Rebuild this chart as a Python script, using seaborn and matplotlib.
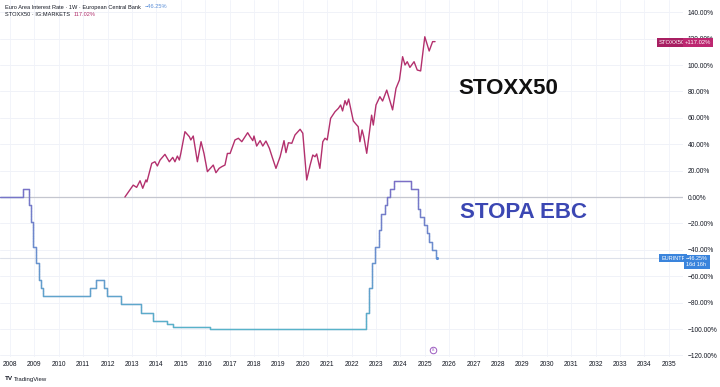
import numpy as np
import pandas as pd
import matplotlib
matplotlib.use("Agg")
import matplotlib.pyplot as plt
import seaborn as sns
from matplotlib.collections import LineCollection
from matplotlib.colors import LinearSegmentedColormap, Normalize
from matplotlib.transforms import blended_transform_factory

# ---------------- data ----------------
years_ticks = list(range(2008, 2036))
y_ticks = list(range(-120, 141, 20))

rate_years = [2007.59, 2008.52, 2008.79, 2008.86, 2008.94, 2009.05, 2009.19, 2009.27,
              2009.37, 2011.28, 2011.53, 2011.85, 2011.96, 2012.53, 2013.35, 2013.87,
              2014.44, 2014.69, 2016.21, 2022.57, 2022.71, 2022.84, 2022.97, 2023.11,
              2023.22, 2023.36, 2023.47, 2023.59, 2023.72, 2024.45, 2024.71, 2024.81,
              2024.97, 2025.10, 2025.19, 2025.31, 2025.44]
rate_vals = [0, 6.25, -6.25, -18.75, -37.5, -50, -62.5, -68.75,
             -75, -68.75, -62.5, -68.75, -75, -81.25, -87.5, -93.75,
             -96.25, -98.75, -100, -87.5, -68.75, -50, -37.5, -25,
             -12.5, -6.25, 0, 6.25, 12.5, 6.25, -8.75, -15,
             -21.25, -27.5, -33.75, -40, -46.25]
rate_end_year = 2025.50

stoxx_years = [2012.71, 2013.05, 2013.19, 2013.33, 2013.44, 2013.57, 2013.61, 2013.81,
               2013.94, 2014.04, 2014.15, 2014.35, 2014.53, 2014.67, 2014.76, 2014.86,
               2014.94, 2015.00, 2015.17, 2015.35, 2015.41, 2015.51, 2015.68, 2015.83,
               2015.95, 2016.09, 2016.33, 2016.44, 2016.57, 2016.68, 2016.81, 2016.91,
               2017.02, 2017.22, 2017.36, 2017.50, 2017.74, 2017.84, 2017.95, 2018.00,
               2018.11, 2018.25, 2018.36, 2018.49, 2018.63, 2018.75, 2018.90, 2019.07,
               2019.23, 2019.31, 2019.41, 2019.55, 2019.68, 2019.89, 2020.00, 2020.16,
               2020.30, 2020.41, 2020.50, 2020.57, 2020.70, 2020.82, 2020.91, 2021.00,
               2021.14, 2021.32, 2021.46, 2021.55, 2021.63, 2021.73, 2021.80, 2021.88,
               2022.07, 2022.21, 2022.27, 2022.34, 2022.43, 2022.50, 2022.62, 2022.82,
               2022.89, 2023.00, 2023.16, 2023.27, 2023.44, 2023.68, 2023.82, 2023.96,
               2024.09, 2024.19, 2024.28, 2024.39, 2024.56, 2024.69, 2024.83, 2025.00,
               2025.18, 2025.32, 2025.42]
stoxx_vals = [0.0, 9.0, 7.3, 12.3, 6.6, 12.9, 11.4, 25.5,
              26.7, 23.5, 28.0, 32.3, 26.7, 30.0, 26.7, 31.0,
              28.0, 33.0, 49.5, 45.7, 43.2, 46.2, 26.7, 41.9,
              33.0, 19.2, 24.2, 18.4, 21.7, 23.0, 24.2, 33.0,
              33.0, 43.2, 44.5, 41.9, 48.7, 45.7, 42.7, 46.2,
              38.6, 42.7, 38.6, 42.4, 36.9, 30.0, 21.7, 30.5,
              42.7, 33.6, 41.1, 40.7, 47.0, 51.3, 48.3, 12.9,
              24.2, 31.8, 30.5, 32.6, 21.7, 41.9, 44.5, 43.2,
              59.6, 64.6, 67.2, 69.7, 65.2, 73.0, 69.7, 74.2,
              57.6, 54.5, 53.3, 41.9, 50.8, 45.7, 33.1, 62.0,
              54.5, 69.7, 76.0, 72.7, 81.0, 66.0, 82.3, 88.6,
              106.3, 100.0, 102.5, 98.2, 102.5, 96.2, 95.5, 121.4,
              110.6, 117.7, 117.7]

stoxx_last = "117.02%"
rate_last = "−46.25%"

# ---------------- style ----------------
sns.set_theme(style="white")
plt.rcParams["font.family"] = ["Liberation Sans", "DejaVu Sans"]

W, H = 720, 387
fig = plt.figure(figsize=(W / 100, H / 100), dpi=100)
fig.patch.set_facecolor("white")
ax_right_px = 683
ax_bottom_px = 357
ax = fig.add_axes([0, 1 - ax_bottom_px / H, ax_right_px / W, ax_bottom_px / H])
ax.set_facecolor("white")

px_per_year = 24.4
x0 = 2008 - 10 / px_per_year
ax.set_xlim(x0, x0 + ax_right_px / px_per_year)
px_per_pct = 1.32
ax.set_ylim(-(ax_bottom_px - 197) / px_per_pct, 197 / px_per_pct)

for s in ax.spines.values():
    s.set_visible(False)

# grid
for yr in years_ticks:
    ax.axvline(yr, color="#f2f4fa", lw=0.7, zorder=0)
for v in y_ticks:
    if v != 0:
        ax.axhline(v, color="#f0f2f8", lw=0.7, zorder=0)
ax.axhline(0, color="#c4c6cf", lw=0.9, zorder=1)
ax.axhline(-46.25, color="#dde1ea", lw=0.8, zorder=1)

# ticks
ax.set_xticks(years_ticks)
ax.set_xticklabels([str(y) for y in years_ticks])
ax.yaxis.tick_right()
ax.set_yticks(y_ticks)
ax.set_yticklabels([(f"{v:.2f}%" if v >= 0 else f"−{abs(v):.2f}%") for v in y_ticks])
ax.tick_params(axis="x", length=0, pad=3, labelsize=4.8, labelcolor="#131722")
ax.tick_params(axis="y", length=0, pad=3.5, labelsize=4.8, labelcolor="#131722")
for lab in ax.get_yticklabels():
    lab.set_horizontalalignment("left")

# ---- ECB rate line (gradient by value) ----
rx = np.array(rate_years + [rate_end_year])
ry = np.array(rate_vals + [rate_vals[-1]])
sx = np.repeat(rx, 2)[1:]
sy = np.repeat(ry, 2)[:-1]
sns.lineplot(x=rx, y=ry, ax=ax, drawstyle="steps-post", color="#6a90c9", lw=0.9,
             zorder=2, estimator=None, sort=False)
pts = np.column_stack([sx, sy])
segs = []
vals = []
for i in range(len(pts) - 1):
    a, b = pts[i], pts[i + 1]
    n = max(1, int(abs(b[1] - a[1]) / 2))
    for k in range(n):
        p = a + (b - a) * k / n
        q = a + (b - a) * (k + 1) / n
        segs.append([p, q])
        vals.append((p[1] + q[1]) / 2)
cmap = LinearSegmentedColormap.from_list("rate", ["#58b3c9", "#6a90cf", "#7c6ec6"])
lc = LineCollection(segs, cmap=cmap, norm=Normalize(-100, 12.5), linewidths=0.95,
                    zorder=3, capstyle="round", joinstyle="round")
lc.set_array(np.array(vals))
ax.add_collection(lc)
ax.scatter([rate_end_year], [rate_vals[-1]], s=5, color="#5b8fd8", zorder=4, linewidths=0)

# ---- STOXX50 line ----
df = pd.DataFrame({"year": stoxx_years, "pct": stoxx_vals})
sns.lineplot(data=df, x="year", y="pct", ax=ax, color="#b3306d", lw=1.0, zorder=4,
             estimator=None, sort=False)
ax.set_xlabel("")
ax.set_ylabel("")

# annotations
ax.text(x0 + 458 / px_per_year, (197 - 88) / px_per_pct, "STOXX50", fontsize=16,
        fontweight="bold", color="#111111", va="center", ha="left", zorder=5)
ax.text(x0 + 460 / px_per_year, (197 - 213) / px_per_pct, "STOPA EBC", fontsize=16,
        fontweight="bold", color="#3b47b3", va="center", ha="left", zorder=5)

# price labels on right
tr = blended_transform_factory(ax.transAxes, ax.transData)
def axx(px):
    return px / ax_right_px

mag = "#bd2770"
ax.text(axx(659), 117.02, "STOXX50", transform=tr, fontsize=4.2, color="white",
        va="center", ha="left", zorder=10, clip_on=False,
        bbox=dict(boxstyle="square,pad=0.35", fc="#a81f62", ec="none"))
ax.text(axx(685), 117.02, "+" + stoxx_last, transform=tr, fontsize=4.2, color="white",
        va="center", ha="left", zorder=10, clip_on=False,
        bbox=dict(boxstyle="square,pad=0.35", fc=mag, ec="none"))
blue = "#3a84dc"
ax.text(axx(661), -46.25, "EURINTR", transform=tr, fontsize=4.0, color="white",
        va="center", ha="left", zorder=10, clip_on=False,
        bbox=dict(boxstyle="square,pad=0.35", fc=blue, ec="none"))
ax.text(axx(686), -49.0, rate_last + "\n16d 16h", transform=tr, fontsize=4.0,
        color="white", va="center", ha="left", zorder=10, clip_on=False,
        linespacing=1.1,
        bbox=dict(boxstyle="square,pad=0.35", fc=blue, ec="none"))

# event marker
ax.scatter([x0 + 433 / px_per_year], [(197 - 350) / px_per_pct], s=22, facecolor="white",
           edgecolor="#9c5bc0", linewidths=0.7, zorder=6, clip_on=False)
ax.text(x0 + 433 / px_per_year, (197 - 350) / px_per_pct, "8", fontsize=3.2,
        color="#9c5bc0", ha="center", va="center", zorder=7, clip_on=False)

# header legend
fs = 4.1
t1 = fig.text(5 / W, 1 - 7 / H, "Euro Area Interest Rate · 1W · European Central Bank",
              fontsize=fs, color="#131722", va="center", ha="left")
fig.text(0, 0, "", alpha=0)
ax.annotate(rate_last, xy=(1, 0.5), xycoords=t1, xytext=(2.5, 0),
            textcoords="offset points", fontsize=fs, color="#5b8fd8",
            va="center", ha="left", annotation_clip=False)
t2 = fig.text(5 / W, 1 - 15 / H, "STOXX50 · IG:MARKETS", fontsize=fs, color="#131722",
              va="center", ha="left")
ax.annotate(stoxx_last, xy=(1, 0.5), xycoords=t2, xytext=(2.5, 0),
            textcoords="offset points", fontsize=fs, color="#b3306d",
            va="center", ha="left", annotation_clip=False)

# footer logo
fig.text(5 / W, 1 - 379 / H, "TV", fontsize=4.6, fontweight="bold", color="#131722",
         va="center", ha="left")
fig.text(14 / W, 1 - 379 / H, "TradingView", fontsize=4.3, color="#131722",
         va="center", ha="left")

fig.savefig("out.png", dpi=100, facecolor="white")
